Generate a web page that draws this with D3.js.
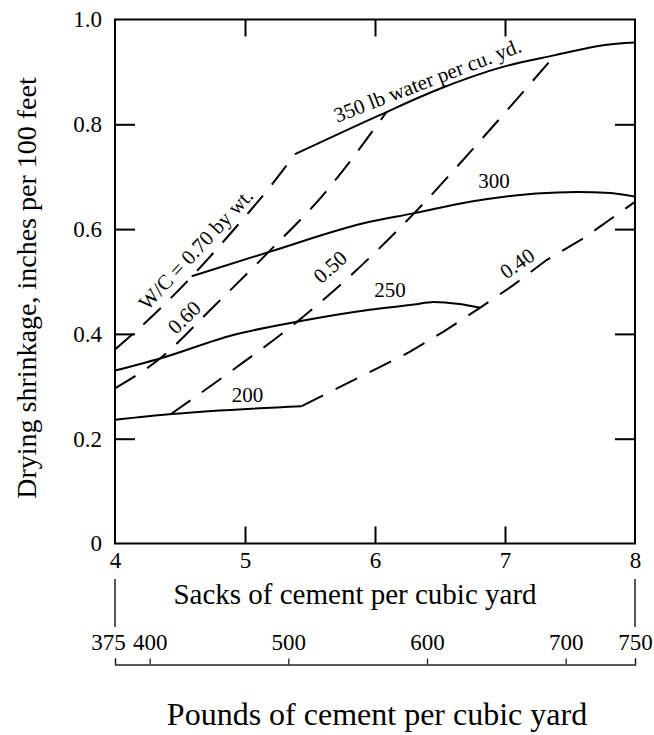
<!DOCTYPE html>
<html>
<head>
<meta charset="utf-8">
<script src="https://cdn.jsdelivr.net/npm/d3@7"></script>
<style>
  html, body { margin: 0; padding: 0; background: #fff; }
  svg text { font-family: "Liberation Serif", "Times New Roman", serif; fill: #000; }
</style>
</head>
<body>
<svg id="chart" width="654" height="735"></svg>
<script>
// ---- data ----
const sacksTicks = [4, 5, 6, 7, 8];
const shrinkTicks = [0, 0.2, 0.4, 0.6, 0.8, 1.0];
const poundTicks = [375, 400, 500, 600, 700, 750];

// water content curves, [sacks per cu. yd., shrinkage in. per 100 ft]
const water350 = [[5.385, 0.743], [6.04, 0.818], [6.47, 0.865], [6.99, 0.91], [7.385, 0.932], [7.756, 0.951], [8, 0.956]];
const water300 = [[4.59, 0.51], [5.18, 0.556], [5.96, 0.614], [6.295, 0.63], [6.73, 0.652], [7.24, 0.668], [7.55, 0.671], [7.81, 0.669], [8, 0.662]];
const water250 = [[4, 0.33], [4.346, 0.353], [4.91, 0.398], [5.397, 0.423], [5.96, 0.446], [6.3, 0.456], [6.45, 0.461], [6.65, 0.457], [6.81, 0.45]];
const water200 = [[4, 0.236], [4.436, 0.247], [5.436, 0.262]];

// water/cement ratio curves
const wc070 = [[4, 0.37], [4.3, 0.437], [4.6, 0.512], [4.9, 0.595], [5.2, 0.683], [5.385, 0.743]];
const wc060 = [[4, 0.296], [4.346, 0.353], [4.75, 0.45], [5.18, 0.556], [5.6, 0.665], [6.09, 0.824]];
const wc050 = [[4.43, 0.247], [4.9, 0.33], [5.4, 0.423], [5.85, 0.52], [6.3, 0.63], [6.85, 0.78], [7.385, 0.932]];
const wc040 = [[5.436, 0.262], [5.7, 0.295], [6.04, 0.337], [6.27, 0.366], [6.525, 0.404], [6.81, 0.45], [7.064, 0.493], [7.32, 0.541], [7.6, 0.582], [8, 0.652]];

// ---- layout ----
const svg = d3.select("#chart");
const x = d3.scaleLinear().domain([4, 8]).range([115, 635]);
const y = d3.scaleLinear().domain([0, 1]).range([543.5, 19.5]);
const lb = d3.scaleLinear().domain([375, 750]).range([115, 635]);

const tickFont = "23px";
const labelFont = "21px";
const dash = "24,14";

// curves
const line = d3.line().x(d => x(d[0])).y(d => y(d[1])).curve(d3.curveMonotoneX);
const lineStraight = d3.line().x(d => x(d[0])).y(d => y(d[1]));

const curves = svg.append("g").attr("fill", "none").attr("stroke", "#000").attr("stroke-width", 2);
[water350, water300, water250, water200].forEach(s => {
  curves.append("path").attr("d", line(s));
});
[wc070, wc060, wc050].forEach(s => {
  curves.append("path").attr("d", line(s)).attr("stroke-dasharray", dash);
});
curves.append("path").attr("d", lineStraight(wc040)).attr("stroke-dasharray", dash);

// frame
svg.append("rect")
  .attr("x", x(4)).attr("y", y(1))
  .attr("width", x(8) - x(4)).attr("height", y(0) - y(1))
  .attr("fill", "none").attr("stroke", "#000").attr("stroke-width", 2);

function styleAxis(g, width) {
  g.select(".domain").remove();
  g.selectAll(".tick line").attr("stroke", "#000").attr("stroke-width", width);
  g.selectAll("text").style("font-size", tickFont).attr("fill", "#000");
}

// bottom axis: sacks
const gB = svg.append("g").attr("transform", `translate(0,${y(0)})`)
  .call(d3.axisBottom(x).tickValues(sacksTicks).tickSizeInner(-17).tickSizeOuter(0).tickPadding(8).tickFormat(d3.format("d")));
styleAxis(gB, 2);
gB.selectAll(".tick").filter(d => d === 4 || d === 8).select("line").remove();

// top ticks
const gT = svg.append("g").attr("transform", `translate(0,${y(1)})`)
  .call(d3.axisTop(x).tickValues(sacksTicks.slice(1, -1)).tickSizeInner(-17).tickSizeOuter(0).tickFormat(""));
styleAxis(gT, 2);

// left axis
const gL = svg.append("g").attr("transform", `translate(${x(4)},0)`)
  .call(d3.axisLeft(y).tickValues(shrinkTicks).tickSizeInner(-20).tickSizeOuter(0).tickPadding(13)
    .tickFormat(d => d === 0 ? "0" : d3.format(".1f")(d)));
styleAxis(gL, 2);
gL.selectAll(".tick").filter(d => d === 0 || d === 1).select("line").remove();

// right ticks
const gR = svg.append("g").attr("transform", `translate(${x(8)},0)`)
  .call(d3.axisRight(y).tickValues(shrinkTicks.slice(1, -1)).tickSizeInner(-20).tickSizeOuter(0).tickFormat(""));
styleAxis(gR, 2);

// axis titles
svg.append("text")
  .attr("transform", `translate(36,288) rotate(-90)`)
  .attr("text-anchor", "middle").style("font-size", "28px")
  .text("Drying shrinkage, inches per 100 feet");

svg.append("text")
  .attr("x", 355).attr("y", 604)
  .attr("text-anchor", "middle").style("font-size", "29px")
  .text("Sacks of cement per cubic yard");

// connectors from sacks scale to pounds scale
svg.append("g").attr("stroke", "#000").attr("stroke-width", 1.3)
  .selectAll("line").data([4, 8]).join("line")
  .attr("x1", d => x(d)).attr("x2", d => x(d))
  .attr("y1", 579).attr("y2", 627);

// pounds axis
const gP = svg.append("g").attr("transform", "translate(0,664.5)")
  .call(d3.axisTop(lb).tickValues(poundTicks).tickSize(6).tickPadding(8.5).tickFormat(d3.format("d")));
gP.select(".domain").attr("stroke", "#222").attr("stroke-width", 1.3);
gP.selectAll(".tick line").attr("stroke", "#222").attr("stroke-width", 1.3);
gP.selectAll("text").style("font-size", tickFont).attr("fill", "#000");
gP.selectAll(".tick").filter(d => d === 375).select("text").attr("dx", -7);

svg.append("text")
  .attr("x", 377).attr("y", 725)
  .attr("text-anchor", "middle").style("font-size", "32px")
  .text("Pounds of cement per cubic yard");

// curve labels
const labels = svg.append("g").style("font-size", labelFont).attr("text-anchor", "middle");
function label(text, s, v, angle, dy) {
  labels.append("text")
    .attr("transform", `translate(${x(s)},${y(v)}) rotate(${angle})`)
    .attr("dy", dy)
    .text(text);
}
label("350 lb water per cu. yd.", 6.423, 0.871, -21, "0");
label("300", 6.915, 0.678, 0, "0");
label("250", 6.115, 0.471, 0, "0");
label("200", 5.019, 0.2706, 0, "0");
label("W/C = 0.70 by wt.", 4.62, 0.562, -47, "0.35em");
label("0.60", 4.531, 0.432, -44, "0.35em");
label("0.50", 5.654, 0.528, -42, "0.35em");
label("0.40", 7.092, 0.535, -35, "0.35em");
</script>
</body>
</html>
